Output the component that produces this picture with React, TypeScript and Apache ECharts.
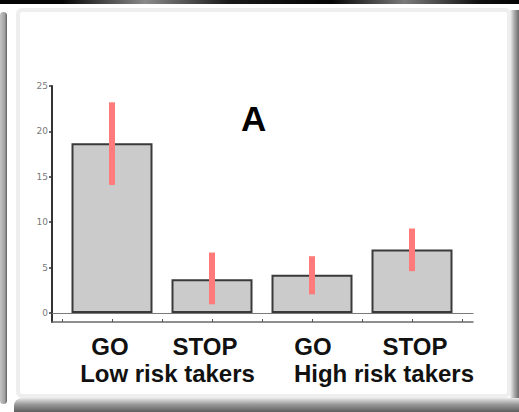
import React, { useEffect, useRef } from "react";
import * as echarts from "echarts";

// ---- data ----
const title = "A";
const categories = ["GO", "STOP", "GO", "STOP"];
const groups = ["Low risk takers", "High risk takers"];
const positions = [1, 2, 3, 4];
const means = [18.7, 3.7, 4.2, 7.0];
const errLow = [14.1, 0.95, 2.05, 4.6];
const errHigh = [23.2, 6.65, 6.25, 9.3];
const yTicks = [0, 5, 10, 15, 20, 25];
const xTicks = [0.5, 1, 1.5, 2, 2.5, 3, 3.5, 4, 4.5];
const groupCenters = [1.5, 3.5];

// label nudges (px) to match original placement
const catShift = [-2, -7, 1, 3];
const groupShift = [5.5, 22];

const padFor = (s: number) => (s < 0 ? [0, -2 * s, 0, 0] : [0, 0, 0, 2 * s]);

const FONT = "'Liberation Sans', Arial, sans-serif";

export default function App() {
  const ref = useRef<HTMLDivElement>(null);

  useEffect(() => {
    if (!ref.current) return;
    const chart = echarts.init(ref.current, null, { renderer: "svg" });

    const catRich: Record<string, any> = {};
    categories.forEach((_, i) => {
      catRich["c" + i] = {
        fontFamily: FONT,
        fontWeight: "bold",
        fontSize: 24,
        color: "#111",
        padding: padFor(catShift[i]),
      };
    });
    const grpRich: Record<string, any> = {};
    groups.forEach((_, i) => {
      grpRich["g" + i] = {
        fontFamily: FONT,
        fontWeight: "bold",
        fontSize: 24,
        color: "#111",
        padding: padFor(groupShift[i]),
      };
    });

    const option: any = {
      animation: false,
      backgroundColor: "#ffffff",
      title: {
        text: title,
        left: 241,
        top: 101,
        padding: 0,
        textStyle: {
          fontFamily: FONT,
          fontWeight: "bold",
          fontSize: 35,
          color: "#000",
        },
      },
      grid: { left: 52, right: 46, top: 86, bottom: 90, containLabel: false },
      xAxis: [
        {
          type: "value",
          position: "bottom",
          min: 0.4,
          max: 4.61,
          axisLine: { show: true, onZero: true, lineStyle: { color: "#7a7a7a", width: 1.2 } },
          axisTick: { show: false },
          splitLine: { show: false },
          axisLabel: {
            show: true,
            customValues: groupCenters,
            margin: 39.5,
            formatter: (v: number) => {
              const i = groupCenters.indexOf(v);
              return i >= 0 ? `{g${i}|${groups[i]}}` : "";
            },
            rich: grpRich,
          },
        },
        {
          type: "value",
          position: "bottom",
          min: 0.4,
          max: 4.61,
          axisLine: { show: true, onZero: false, lineStyle: { color: "#6a6a6a", width: 1.5 } },
          axisTick: {
            show: true,
            inside: true,
            length: 3,
            customValues: xTicks,
            lineStyle: { color: "#555", width: 1 },
          },
          splitLine: { show: false },
          axisLabel: {
            show: true,
            customValues: positions,
            margin: 12,
            formatter: (v: number) => {
              const i = positions.indexOf(v);
              return i >= 0 ? `{c${i}|${categories[i]}}` : "";
            },
            rich: catRich,
          },
        },
      ],
      yAxis: {
        type: "value",
        min: -1,
        max: 25,
        axisLine: { show: true, onZero: false, lineStyle: { color: "#333", width: 2 } },
        axisTick: {
          show: true,
          length: 3,
          customValues: yTicks,
          lineStyle: { color: "#333", width: 1.5 },
        },
        axisLabel: {
          show: true,
          customValues: yTicks,
          margin: 4,
          fontSize: 9,
          color: "#7a7a7a",
          fontFamily: "'DejaVu Sans', sans-serif",
        },
        splitLine: { show: false },
      },
      series: [
        {
          type: "bar",
          xAxisIndex: 0,
          yAxisIndex: 0,
          barWidth: 81,
          data: positions.map((p, i) => [p, means[i]]),
          itemStyle: { color: "#cbcbcb", borderColor: "#3a3a3a", borderWidth: 2 },
          z: 2,
        },
        {
          type: "custom",
          xAxisIndex: 0,
          yAxisIndex: 0,
          data: positions.map((p, i) => [p, errLow[i], errHigh[i]]),
          encode: { x: 0, y: [1, 2] },
          z: 3,
          renderItem: (params: any, api: any) => {
            const x = api.value(0);
            const lo = api.coord([x, api.value(1)]);
            const hi = api.coord([x, api.value(2)]);
            return {
              type: "rect",
              shape: { x: lo[0] - 3, y: hi[1], width: 6, height: lo[1] - hi[1] },
              style: { fill: "#ff7b7b" },
            };
          },
        },
      ],
      graphic: [
        // top dark strip
        {
          type: "rect",
          shape: { x: 0, y: 0, width: 519, height: 4 },
          style: {
            fill: {
              type: "linear", x: 0, y: 0, x2: 1, y2: 0,
              colorStops: [
                { offset: 0, color: "#050505" },
                { offset: 0.12, color: "#050505" },
                { offset: 0.28, color: "#8a8a8a" },
                { offset: 0.44, color: "#1a1a1a" },
                { offset: 0.64, color: "#050505" },
                { offset: 0.78, color: "#7a7a7a" },
                { offset: 0.92, color: "#111" },
                { offset: 1, color: "#050505" },
              ],
            },
          },
        },
        // faint panel outline
        {
          type: "rect",
          shape: { x: 18, y: 10, width: 491, height: 386, r: 4 },
          style: { fill: "none", stroke: "#eeeeee", lineWidth: 4 },
        },
        // left band
        {
          type: "rect",
          shape: { x: 0, y: 12, width: 7, height: 392, r: [4, 4, 4, 4] },
          style: {
            fill: {
              type: "linear", x: 0, y: 0, x2: 1, y2: 0,
              colorStops: [
                { offset: 0, color: "#c4c4c4" },
                { offset: 0.7, color: "#a0a0a0" },
                { offset: 1, color: "#5a5a5a" },
              ],
            },
          },
        },
        // right band
        {
          type: "rect",
          shape: { x: 510, y: 10, width: 9, height: 402 },
          style: {
            fill: {
              type: "linear", x: 0, y: 0, x2: 1, y2: 0,
              colorStops: [
                { offset: 0, color: "#f2f2f2" },
                { offset: 0.5, color: "#a8a8a8" },
                { offset: 1, color: "#6a6a6a" },
              ],
            },
          },
        },
        // bottom band
        {
          type: "rect",
          shape: { x: 14, y: 398, width: 505, height: 14, r: [8, 0, 0, 0] },
          style: {
            fill: {
              type: "linear", x: 0, y: 0, x2: 0, y2: 1,
              colorStops: [
                { offset: 0, color: "#e8e8e8" },
                { offset: 0.45, color: "#9a9a9a" },
                { offset: 1, color: "#5e5e5e" },
              ],
            },
          },
        },
      ],
    };

    chart.setOption(option);
    return () => chart.dispose();
  }, []);

  return (
    <div
      ref={ref}
      style={{ position: "absolute", left: 0, top: 0, width: 519, height: 412 }}
    />
  );
}
